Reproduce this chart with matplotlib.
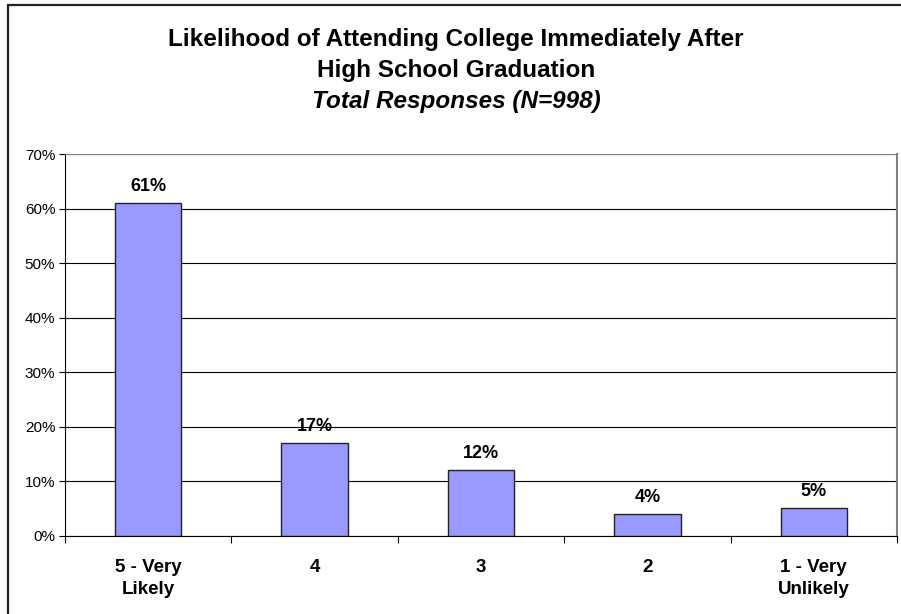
import matplotlib.pyplot as plt
import numpy as np
from matplotlib.patches import Rectangle
from matplotlib.ticker import FixedLocator, PercentFormatter

plt.rcParams['font.family'] = ['Liberation Sans', 'DejaVu Sans']

categories = ["5 - Very\nLikely", "4", "3", "2", "1 - Very\nUnlikely"]
values = [61, 17, 12, 4, 5]
bar_labels = ["61%", "17%", "12%", "4%", "5%"]

W, H = 901, 614
fig = plt.figure(figsize=(W / 100, H / 100), dpi=100)

# chart border (runs off the right and bottom edges)
fig.patches.append(Rectangle((8 / W, -0.1), 1.0, 1.1 - 5 / H, transform=fig.transFigure,
                             fill=False, edgecolor='#222222', linewidth=1.6))

ax = fig.add_axes([65 / W, (H - 535.7) / H, (897 - 65) / W, (535.7 - 154) / H])
x = np.arange(len(values))
ax.bar(x, values, width=0.4, color='#9999FF', edgecolor='#222222', linewidth=1.0, zorder=3)
for xi, v, lab in zip(x, values, bar_labels):
    ax.text(xi, v + 2.2, lab, ha='center', va='baseline', fontsize=13, fontweight='bold', zorder=4)

ax.set_xlim(-0.5, len(values) - 0.5)
ax.set_ylim(0, 70)
ax.set_yticks(np.arange(0, 71, 10))
ax.yaxis.set_major_formatter(PercentFormatter(decimals=0))
ax.yaxis.grid(True, color='black', linewidth=0.8, zorder=0)
ax.tick_params(axis='y', direction='out', length=4, width=0.8, labelsize=11, pad=3)

ax.set_xticks(x)
ax.set_xticklabels(categories, fontsize=13.5, fontweight='bold')
for t in ax.get_xticklabels():
    t.set_linespacing(1.35)
ax.tick_params(axis='x', which='major', length=0, pad=17)
ax.xaxis.set_minor_locator(FixedLocator(np.arange(-0.5, len(values), 1.0)))
ax.tick_params(axis='x', which='minor', direction='out', length=5, width=0.8)

ax.spines['left'].set_color('black')
ax.spines['bottom'].set_color('black')
ax.spines['top'].set_color('#808080')
ax.spines['right'].set_color('#808080')
ax.spines['right'].set_linewidth(1.5)

cx = 456 / W
fig.text(cx, 1 - 46 / H, "Likelihood of Attending College Immediately After",
         ha='center', va='baseline', fontsize=17.5, fontweight='bold')
fig.text(cx, 1 - 77 / H, "High School Graduation",
         ha='center', va='baseline', fontsize=17.5, fontweight='bold')
fig.text(cx, 1 - 108 / H, "Total Responses (N=998)",
         ha='center', va='baseline', fontsize=17.5, fontweight='bold', style='italic')

fig.savefig("out.png", dpi=100)
